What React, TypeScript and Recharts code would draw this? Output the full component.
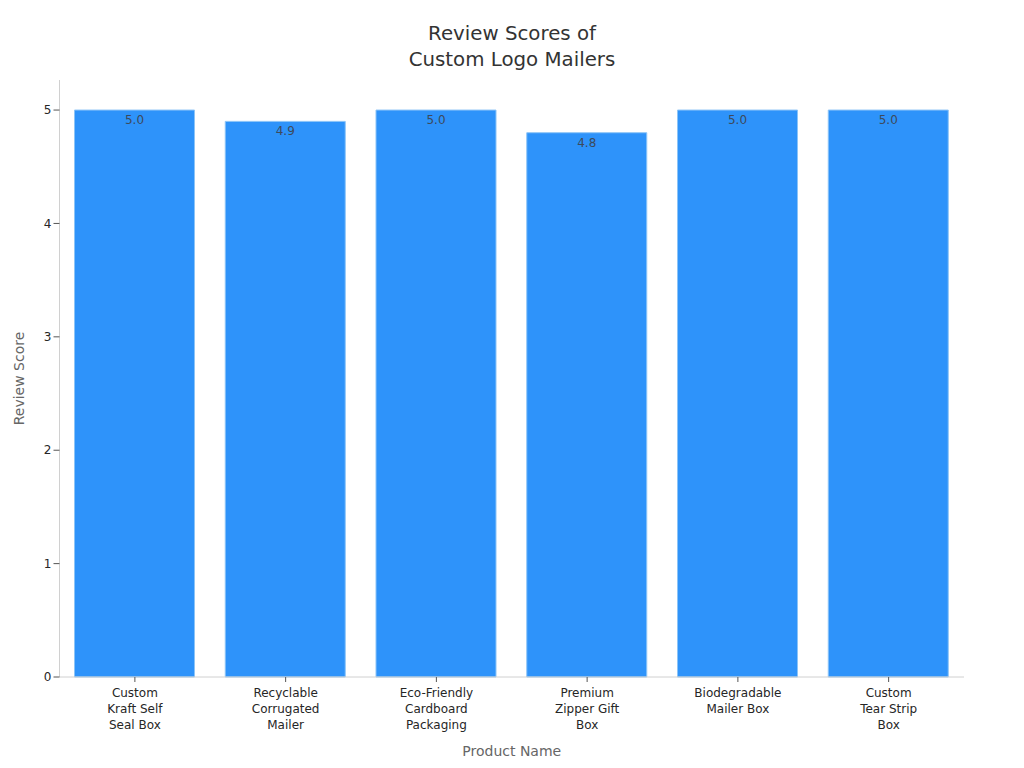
import { Bar, BarChart, LabelList, XAxis, YAxis } from "recharts";

const products = [
  "Custom|Kraft Self|Seal Box",
  "Recyclable|Corrugated|Mailer",
  "Eco-Friendly|Cardboard|Packaging",
  "Premium|Zipper Gift|Box",
  "Biodegradable|Mailer Box",
  "Custom|Tear Strip|Box",
];
const scores = [5.0, 4.9, 5.0, 4.8, 5.0, 5.0];
const yTicks = [0, 1, 2, 3, 4, 5];
const titleLines = ["Review Scores of", "Custom Logo Mailers"];

const FONT = "'DejaVu Sans', sans-serif";
const chartData = products.map((name, i) => ({ name, score: scores[i] }));

// Product names wrap onto up to three lines
function ProductTick({ x, y, payload }: any) {
  return (
    <text x={x} y={y} textAnchor="middle" fontSize={12} fontFamily={FONT} fill="#262626">
      {String(payload.value)
        .split("|")
        .map((line, i) => (
          <tspan key={i} x={x} dy={i === 0 ? 13 : 16}>
            {line}
          </tspan>
        ))}
    </text>
  );
}

export default function App() {
  return (
    <div style={{ position: "absolute", left: 0, top: 0, width: 1024, height: 768, background: "#fff" }}>
      <div
        style={{
          position: "absolute",
          top: 21,
          width: 1024,
          textAlign: "center",
          fontFamily: FONT,
          fontSize: 19.8,
          lineHeight: "26px",
          color: "#333",
        }}
      >
        {titleLines.map((line) => (
          <div key={line}>{line}</div>
        ))}
      </div>
      <BarChart
        width={1024}
        height={768}
        data={chartData}
        margin={{ top: 80, right: 60, bottom: 0, left: 0 }}
        barSize={120}
      >
        <XAxis
          dataKey="name"
          interval={0}
          height={91}
          tick={<ProductTick />}
          tickLine={{ stroke: "#555" }}
          tickSize={5}
          axisLine={{ stroke: "#d0d0d0" }}
          label={{
            value: "Product Name",
            position: "insideBottom",
            offset: 12,
            fontSize: 14,
            fontFamily: FONT,
            fill: "#666",
          }}
        />
        <YAxis
          width={59.5}
          domain={[0, 5.265]}
          ticks={yTicks}
          tick={{ fontSize: 12, fontFamily: FONT, fill: "#262626" }}
          tickLine={{ stroke: "#555" }}
          tickSize={6}
          axisLine={{ stroke: "#d0d0d0" }}
          label={{
            value: "Review Score",
            angle: -90,
            position: "insideLeft",
            offset: 19,
            style: { textAnchor: "middle" },
            fontSize: 14,
            fontFamily: FONT,
            fill: "#666",
          }}
        />
        <Bar dataKey="score" fill="#2e93fa" stroke="#8cc4f7" strokeWidth={1} isAnimationActive={false}>
          <LabelList
            dataKey="score"
            position="insideTop"
            offset={5.5}
            formatter={(v: any) => Number(v).toFixed(1)}
            fontSize={12}
            fontFamily={FONT}
            fill="#3d4a5c"
          />
        </Bar>
      </BarChart>
    </div>
  );
}
